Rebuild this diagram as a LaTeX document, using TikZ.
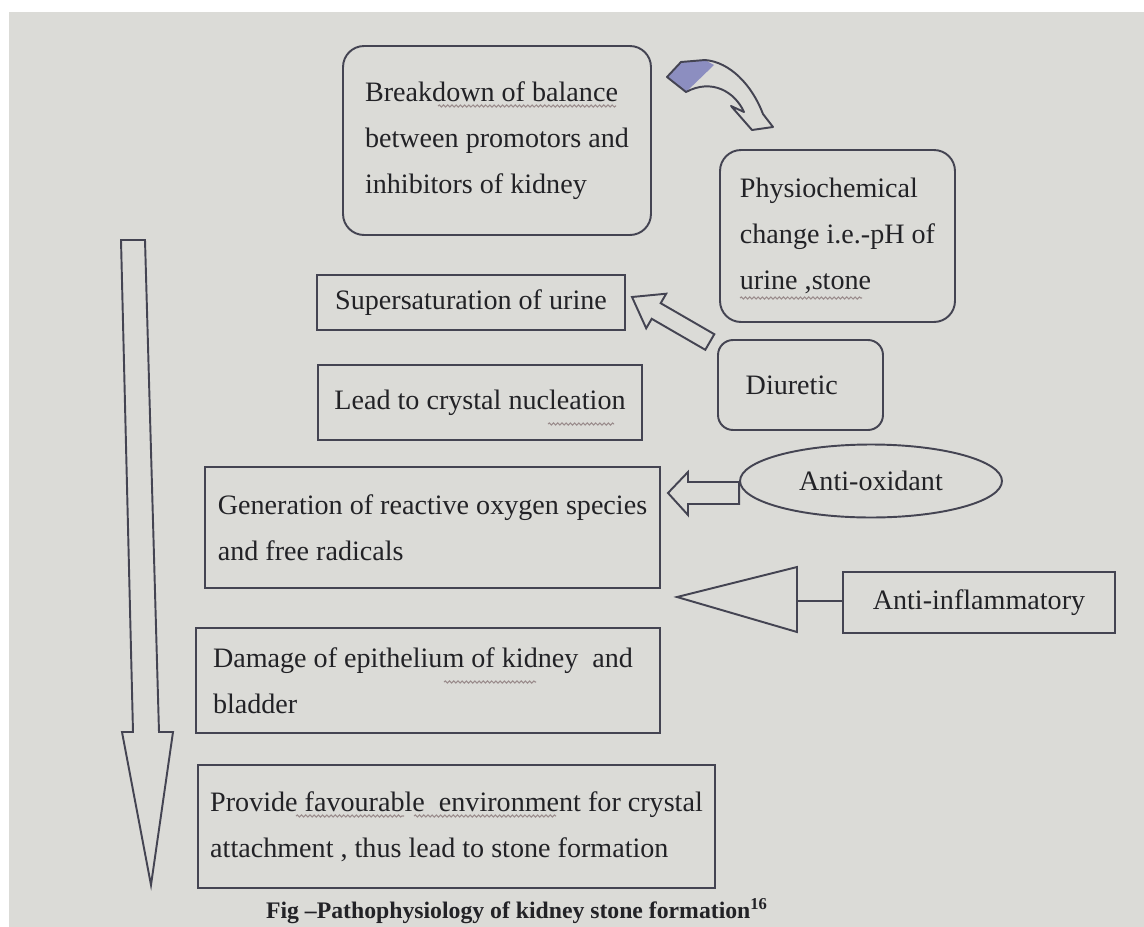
\documentclass[tikz,border=0pt]{standalone}
\usepackage{fontspec}
\setmainfont{Liberation Serif}
\usetikzlibrary{shapes.geometric,decorations.pathmorphing}
\definecolor{bg}{HTML}{DBDBD7}
\definecolor{ln}{HTML}{444452}
\definecolor{tx}{HTML}{222226}
\definecolor{ribbon}{HTML}{8C8EC0}
\definecolor{squig}{HTML}{9A8C8C}
\tikzset{
  box/.style={draw=ln, line width=1.1pt, rectangle, inner sep=0pt, text=tx,
     font=\fontsize{16}{26}\selectfont, align=left},
  rbox/.style={box, rounded corners=0.42cm},
  oval/.style={draw=ln, line width=1.1pt, ellipse, inner sep=0pt, text=tx,
     font=\fontsize{16}{26}\selectfont},
  blockarrow/.style={draw=ln, line width=1.1pt, fill=bg, line join=miter},
  squiggle/.style={draw=squig, line width=0.6pt,
     decorate, decoration={snake, amplitude=0.6pt, segment length=2.4pt}},
}
\begin{document}
\begin{tikzpicture}[x=0.02cm,y=-0.02cm]
% background
\fill[white] (0,0) rectangle (1144,927);
\fill[bg] (9,12) rectangle (1144,927);
\useasboundingbox (0,0) rectangle (1144,927);

% boxes
\node[rbox, minimum width=6.16cm, minimum height=3.78cm] (bal) at (497,140.5)
  {Breakdown of balance\\between promotors and\\inhibitors of kidney\hspace*{0.1cm}};
\node[rbox, minimum width=4.7cm, minimum height=3.44cm] (phys) at (837.5,236)
  {Physiochemical\\change i.e.-pH of\\urine ,stone};
\node[box, minimum width=6.16cm, minimum height=1.1cm] (super) at (471,302.5)
  {Supersaturation of urine};
\node[rbox, rounded corners=0.3cm, minimum width=3.3cm, minimum height=1.8cm] (diur) at (800.5,385)
  {Diuretic\hspace*{0.35cm}};
\node[box, minimum width=6.48cm, minimum height=1.5cm] (nuc) at (480,402.5)
  {Lead to crystal nucleation};
\node[box, minimum width=9.1cm, minimum height=2.42cm] (gen) at (432.5,527.5)
  {Generation of reactive oxygen species\\and free radicals\hspace*{0.2cm}};
\node[oval, minimum width=5.24cm, minimum height=1.46cm] (ox) at (871,481)
  {Anti-oxidant};
\node[box, minimum width=5.44cm, minimum height=1.22cm] (infl) at (979,602.5)
  {Anti-inflammatory};
\node[box, minimum width=9.28cm, minimum height=2.1cm] (dam) at (428,680.5)
  {Damage of epithelium of kidney~ and\hspace*{0.2cm}\\bladder};
\node[box, minimum width=10.34cm, minimum height=2.46cm] (prov) at (456.5,826.5)
  {Provide favourable~ environment for crystal\\attachment , thus lead to stone formation};
\node[text=tx, font=\fontsize{13.5}{16}\selectfont\bfseries] (cap) at (517,911)
  {Fig --Pathophysiology of kidney stone formation\textsuperscript{16}};

% big downward arrow
\draw[blockarrow] (121,240) -- (145,240) -- (159,732) -- (173,732) -- (151,885)
  -- (122,732) -- (133,732) -- cycle;

% curved arrow at the top
\fill[ribbon] (667,77) -- (681,62) -- (705,60) -- (714,65) -- (686,92) -- cycle;
\draw[ln, line width=1.1pt, line join=round] (667,77) -- (681,62) -- (705,60)
  .. controls (730,62) and (752,85) .. (763,114)
  -- (773,127) -- (752,130) -- (731,106) -- (744,112)
  .. controls (735,92) and (712,78) .. (686,92) -- cycle;

% diuretic arrow to supersaturation
\draw[blockarrow] (632,297) -- (666.2,293.7) -- (660.7,303.2) -- (714.3,334.2)
  -- (705.3,349.8) -- (651.7,318.8) -- (646.2,328.3) -- cycle;

% anti-oxidant arrow
\draw[blockarrow] (668,493) -- (688,472) -- (688,482) -- (ox.west |- 0,482)
  -- (ox.west |- 0,504) -- (688,504) -- (688,515) -- cycle;

% anti-inflammatory triangle arrow
\draw[blockarrow] (677,597) -- (797,567) -- (797,632) -- cycle;
\coordinate (tribase) at (797,601);
\draw[ln, line width=1.1pt] (tribase) -- (infl.west |- tribase);

% spell-check squiggles
\draw[squiggle] (438,106) -- (616,106);
\draw[squiggle] (740,298) -- (862,298);
\draw[squiggle] (548,424) -- (614,424);
\draw[squiggle] (444,682) -- (536,682);
\draw[squiggle] (296,816) -- (404,816);
\draw[squiggle] (414,816) -- (556,816);
\end{tikzpicture}
\end{document}
